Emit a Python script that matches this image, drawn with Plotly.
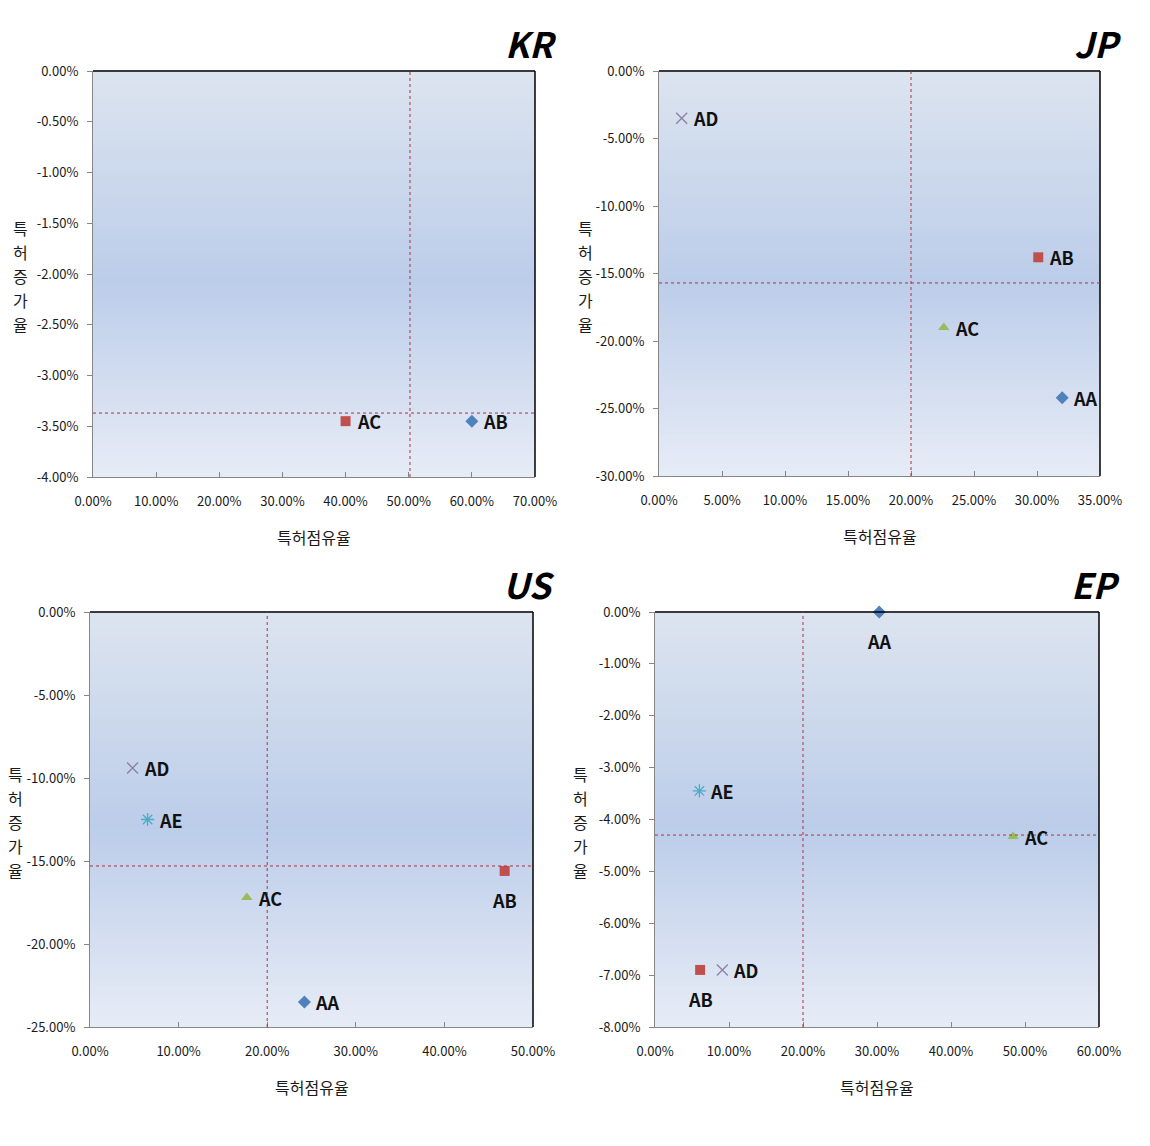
import plotly.graph_objects as go

# ---------------- data ----------------
series_styles = [  # by series index (Excel default order)
    ("diamond", "#4F81BD"),
    ("square", "#C0504D"),
    ("triangle-up", "#9BBB59"),
    ("x-thin-open", "#8C7FA6"),
    ("asterisk-open", "#4BACC6"),
]

kr_names = ["AB", "AC"]
kr_share = [60.0, 40.0]
kr_growth = [-3.45, -3.45]
kr_pos = ["right", "right"]
kr_ref = (50.2, -3.37)

jp_names = ["AA", "AB", "AC", "AD"]
jp_share = [32.0, 30.1, 22.6, 1.8]
jp_growth = [-24.2, -13.8, -19.0, -3.5]
jp_pos = ["right", "right", "right", "right"]
jp_ref = (20.0, -15.7)

us_names = ["AA", "AB", "AC", "AD", "AE"]
us_share = [24.2, 46.8, 17.7, 4.8, 6.5]
us_growth = [-23.5, -15.6, -17.2, -9.4, -12.5]
us_pos = ["right", "below", "right", "right", "right"]
us_ref = (20.0, -15.3)

ep_names = ["AA", "AB", "AC", "AD", "AE"]
ep_share = [30.3, 6.1, 48.4, 9.1, 6.0]
ep_growth = [0.0, -6.9, -4.33, -6.9, -3.45]
ep_pos = ["below", "below", "right", "right", "right"]
ep_ref = (20.0, -4.3)

kr_xticks = [0, 10, 20, 30, 40, 50, 60, 70]
kr_yticks = [0, -0.5, -1.0, -1.5, -2.0, -2.5, -3.0, -3.5, -4.0]
jp_xticks = [0, 5, 10, 15, 20, 25, 30, 35]
jp_yticks = [0, -5, -10, -15, -20, -25, -30]
us_xticks = [0, 10, 20, 30, 40, 50]
us_yticks = [0, -5, -10, -15, -20, -25]
ep_xticks = [0, 10, 20, 30, 40, 50, 60]
ep_yticks = [0, -1, -2, -3, -4, -5, -6, -7, -8]

titles = ["KR", "JP", "US", "EP"]
x_title = "특허점유율"
y_title = "특허증가율"

# ---------------- layout geometry ----------------
W, H = 1150, 1146
OFF = 8  # page body margin of the rendered html
FONT = "Noto Sans CJK KR"

panels = [
    dict(title=titles[0], names=kr_names, xs=kr_share, ys=kr_growth, pos=kr_pos, ref=kr_ref,
         xt=kr_xticks, yt=kr_yticks, px=(93, 535), py=(71, 477), ytx=20),
    dict(title=titles[1], names=jp_names, xs=jp_share, ys=jp_growth, pos=jp_pos, ref=jp_ref,
         xt=jp_xticks, yt=jp_yticks, px=(659, 1100), py=(71, 476), ytx=585),
    dict(title=titles[2], names=us_names, xs=us_share, ys=us_growth, pos=us_pos, ref=us_ref,
         xt=us_xticks, yt=us_yticks, px=(90, 533), py=(612, 1027), ytx=15),
    dict(title=titles[3], names=ep_names, xs=ep_share, ys=ep_growth, pos=ep_pos, ref=ep_ref,
         xt=ep_xticks, yt=ep_yticks, px=(655, 1099), py=(612, 1027), ytx=580),
]


def grad_color(t):
    top = (220, 228, 239)
    mid = (188, 205, 234)
    bot = (231, 236, 246)
    if t < 0.52:
        a, b, f = top, mid, t / 0.52
    else:
        a, b, f = mid, bot, (t - 0.52) / 0.48
    c = [round(a[i] + (b[i] - a[i]) * f) for i in range(3)]
    return "rgb(%d,%d,%d)" % tuple(c)


def fx(px):
    return (px - OFF) / W


def fy(py):
    return 1 - (py - OFF) / H


fig = go.Figure()
shapes = []
annotations = []
layout_axes = {}

for i, p in enumerate(panels):
    n = i + 1
    xa = "xaxis" if n == 1 else f"xaxis{n}"
    ya = "yaxis" if n == 1 else f"yaxis{n}"
    xr = "x" if n == 1 else f"x{n}"
    yr = "y" if n == 1 else f"y{n}"
    x0, x1 = p["px"]
    y0, y1 = p["py"]
    xdom = [fx(x0), fx(x1)]
    ydom = [fy(y1), fy(y0)]
    xt, yt = p["xt"], p["yt"]

    layout_axes[xa] = dict(
        domain=xdom, anchor=yr, range=[min(xt), max(xt)], automargin=False,
        tickmode="array", tickvals=xt, ticktext=[f"{v:.2f}%" for v in xt],
        showgrid=False, zeroline=False, showline=True, linecolor="#868686", linewidth=1,
        ticks="inside", ticklen=5, tickcolor="#868686",
        tickfont=dict(family=FONT, size=13, color="#1a1a1a"), ticklabelstandoff=12,
        fixedrange=True,
    )
    layout_axes[ya] = dict(
        domain=ydom, anchor=xr, range=[min(yt), max(yt)], automargin=False,
        tickmode="array", tickvals=yt, ticktext=[f"{v:.2f}%" for v in yt],
        showgrid=False, zeroline=False, showline=True, linecolor="#868686", linewidth=1,
        ticks="outside", ticklen=5, tickcolor="#868686",
        tickfont=dict(family=FONT, size=13, color="#1a1a1a"), ticklabelstandoff=6,
        fixedrange=True,
    )

    # gradient background bands
    nb = 80
    for k in range(nb):
        t = (k + 0.5) / nb
        shapes.append(dict(type="rect", xref=f"{xr} domain", yref=f"{yr} domain",
                           x0=0, x1=1, y0=1 - (k + 1) / nb, y1=1 - k / nb + 0.002,
                           fillcolor=grad_color(t), line=dict(width=0), layer="below"))
    # top/right black frame
    shapes.append(dict(type="line", xref=f"{xr} domain", yref=f"{yr} domain",
                       x0=0, x1=1, y0=1, y1=1, line=dict(color="black", width=1.5)))
    shapes.append(dict(type="line", xref=f"{xr} domain", yref=f"{yr} domain",
                       x0=1, x1=1, y0=0, y1=1, line=dict(color="black", width=1.5)))
    # reference (average) lines
    rx, ry = p["ref"]
    shapes.append(dict(type="line", xref=xr, yref=f"{yr} domain", x0=rx, x1=rx, y0=0, y1=1,
                       line=dict(color="#B0303A", width=1, dash="dot")))
    shapes.append(dict(type="line", xref=f"{xr} domain", yref=yr, x0=0, x1=1, y0=ry, y1=ry,
                       line=dict(color="#B0303A", width=1, dash="dot")))

    # points
    for j, (nm, xv, yv, ps) in enumerate(zip(p["names"], p["xs"], p["ys"], p["pos"])):
        sym, col = series_styles[j]
        thin = sym.endswith("open")
        fig.add_trace(go.Scatter(
            x=[xv], y=[yv], mode="markers", xaxis=xr, yaxis=yr, name=nm, showlegend=False,
            cliponaxis=False,
            marker=dict(symbol=sym, size=11 if thin else 10, color=col,
                        line=dict(color=col, width=1.3) if thin else dict(width=0)),
        ))
        lab_font = dict(family=FONT, size=18, color="#111111", weight="bold")
        if ps == "right":
            annotations.append(dict(x=xv, y=yv, xref=xr, yref=yr, text=nm, showarrow=False,
                                    xanchor="left", yanchor="middle", xshift=9, font=lab_font))
        else:
            annotations.append(dict(x=xv, y=yv, xref=xr, yref=yr, text=nm, showarrow=False,
                                    xanchor="center", yanchor="top", yshift=-14, font=lab_font))

    # panel title
    annotations.append(dict(x=fx(x1 + 24), y=fy(y0 - 29), xref="paper", yref="paper",
                            text=f"<b><i>{p['title']}</i></b>", showarrow=False,
                            xanchor="right", yanchor="middle",
                            font=dict(family=FONT, size=35, color="black")))
    # x axis title
    annotations.append(dict(x=fx((x0 + x1) / 2), y=fy(y1 + 60), xref="paper", yref="paper",
                            text=x_title, showarrow=False, xanchor="center", yanchor="middle",
                            font=dict(family=FONT, size=16, color="#1a1a1a")))
    # y axis title (stacked upright characters)
    chars = list(y_title)
    yc = (y0 + y1) / 2 + 2
    step = 24
    for k, ch in enumerate(chars):
        cy = yc + (k - (len(chars) - 1) / 2) * step
        annotations.append(dict(x=fx(p["ytx"]), y=fy(cy), xref="paper", yref="paper",
                                text=ch, showarrow=False, xanchor="center", yanchor="middle",
                                borderpad=0,
                                font=dict(family=FONT, size=16, color="#1a1a1a")))

fig.update_layout(
    width=W, height=H, margin=dict(l=0, r=0, t=0, b=0, autoexpand=False),
    paper_bgcolor="white", plot_bgcolor="rgba(0,0,0,0)",
    shapes=shapes, annotations=annotations, showlegend=False,
    **layout_axes,
)

fig.write_html("out.html", config={"displayModeBar": False})
